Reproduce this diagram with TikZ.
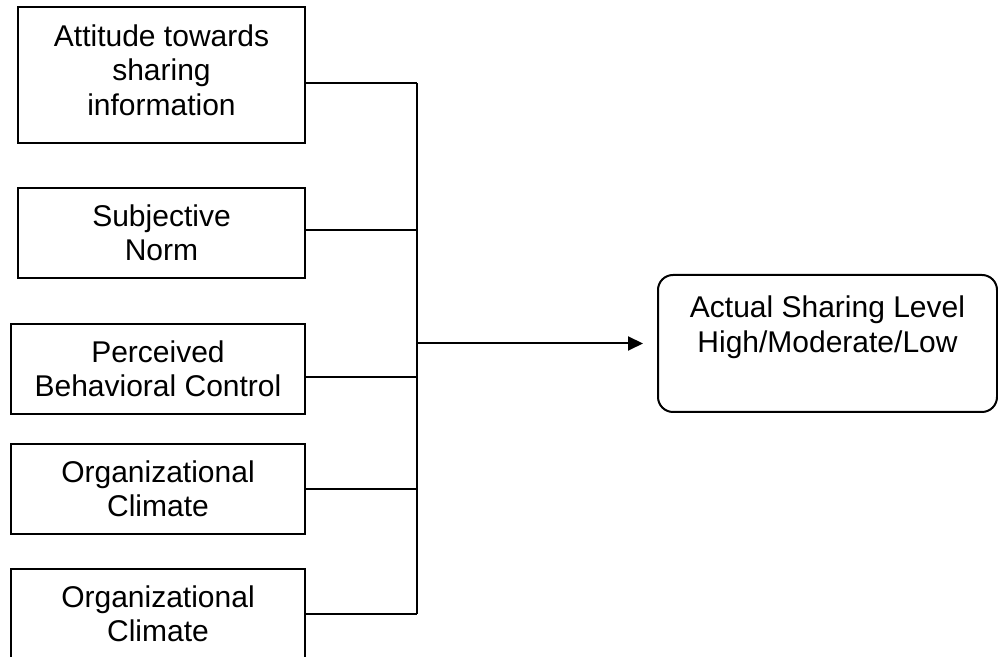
\documentclass[tikz,border=0pt]{standalone}
\usepackage{fontspec}
\setmainfont{Liberation Sans}
\usetikzlibrary{arrows.meta}
\begin{document}
\begin{tikzpicture}[x=0.5pt,y=-0.5pt,
  every node/.style={font=\fontsize{15pt}{17.2pt}\selectfont, align=center, inner sep=0pt, outer sep=0pt},
  factor/.style={draw, line width=1pt, minimum height=45pt},
  outcome/.style={draw, line width=1pt, rounded corners=7.5pt, minimum width=169.5pt, minimum height=68.5pt},
  link/.style={line width=1pt},
  flow/.style={line width=1pt, -{Triangle[length=7.5pt,width=7pt]}, shorten >=7.5pt}]
  \useasboundingbox (0,0) rectangle (998,657);
  \clip (0,0) rectangle (998,657);

  % input factors
  \node[factor, minimum width=143.5pt, minimum height=68pt] (b1) at (161.5,75) {Attitude towards\\sharing\\information\\[-12.2pt]\mbox{}};
  \node[factor, minimum width=143.5pt] (b2) at (161.5,233) {Subjective\\Norm};
  \node[factor, minimum width=147pt] (b3) at (158,369) {Perceived\\Behavioral Control};
  \node[factor, minimum width=147pt] (b4) at (158,489) {Organizational\\Climate};
  \node[factor, minimum width=147pt] (b5) at (158,614) {Organizational\\Climate};

  % outcome
  \node[outcome] (out) at (827.5,343.5) {Actual Sharing Level\\High/Moderate/Low\\[-3pt]\strut};

  % junctions on the collecting bus
  \coordinate (j1) at (417,83);
  \coordinate (j2) at (417,230);
  \coordinate (j3) at (417,377);
  \coordinate (j4) at (417,489);
  \coordinate (j5) at (417,614);
  \coordinate (ja) at (417,343.5);

  \draw[link] (j1 -| b1.east) -- (j1);
  \draw[link] (j2 -| b2.east) -- (j2);
  \draw[link] (j3 -| b3.east) -- (j3);
  \draw[link] (j4 -| b4.east) -- (j4);
  \draw[link] (j5 -| b5.east) -- (j5);
  \draw[link] (j1) -- (j5);
  \draw[flow] (ja) -- (out.west);
\end{tikzpicture}
\end{document}
